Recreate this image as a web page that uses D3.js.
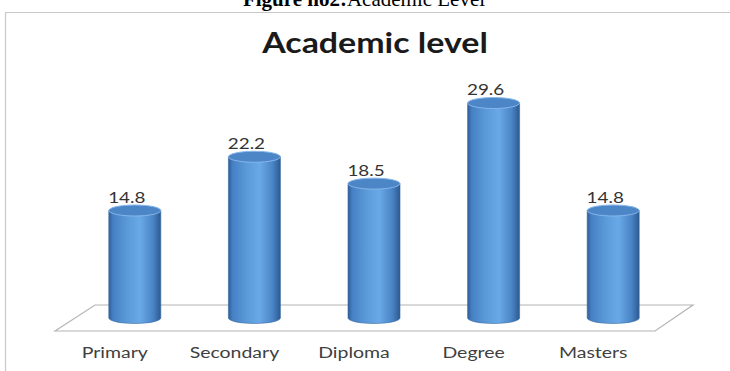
<!DOCTYPE html>
<html><head><meta charset="utf-8">
<script src="https://cdn.jsdelivr.net/npm/d3@7"></script>
<style>html,body{margin:0;padding:0;background:#fff;overflow:hidden}</style>
</head><body>
<svg id="c" width="730" height="371"></svg>
<script>
const categories = ["Primary", "Secondary", "Diploma", "Degree", "Masters"];
const values = [14.8, 22.2, 18.5, 29.6, 14.8];
const valueLabels = ["14.8", "22.2", "18.5", "29.6", "14.8"];
const chartTitle = "Academic level";
const captionBold = "Figure no2:";
const captionRest = "Academic Level";

const svg = d3.select("#c");
const W = 730, H = 371;
const stretch = 1.3; // the reference is horizontally stretched

// outer frame
svg.append("path").attr("d", `M5.5,${H} L5.5,12.5 L${W},12.5`)
  .attr("fill", "none").attr("stroke", "#c8c8c8").attr("stroke-width", 1.2);

// caption (cut at top, as in the reference)
const cap = svg.append("text").attr("x", 364).attr("y", 6).attr("text-anchor", "middle")
  .attr("font-family", "Liberation Serif, Times New Roman, serif").attr("font-size", 21).attr("fill", "#000");
cap.append("tspan").attr("font-weight", "bold").text(captionBold);
cap.append("tspan").text(captionRest);

// title
svg.append("text").attr("transform", "translate(375,53) scale(1.17,1)").attr("text-anchor", "middle")
  .attr("font-family", "Lato, Open Sans, sans-serif").attr("font-weight", "bold")
  .attr("font-size", 29).attr("fill", "#1a1a1a").text(chartTitle);

// scales
const x = d3.scaleBand().domain(categories).range([55, 653]).padding(0);
const dx = 20; // depth offset for bars
const y = d3.scaleLinear().domain([0, 35]).range([318, 63.8]);

// floor
const fl = 55, fr = 655, fy = 331, bx = 40, by = -26;
svg.append("path")
  .attr("d", `M${fl},${fy} L${fl+bx},${fy+by} L${fr+bx-2},${fy+by} L${fr},${fy} Z`)
  .attr("fill", "#fff").attr("stroke", "#b4b4b4").attr("stroke-width", 1.2);

// gradient
const defs = svg.append("defs");
const g = defs.append("linearGradient").attr("id", "cyl").attr("x1", "0").attr("x2", "1").attr("y1", "0").attr("y2", "0");
[[0, "#2f5f98"], [0.08, "#4580c4"], [0.35, "#5b9ad9"], [0.6, "#6aa9e7"], [0.85, "#4a84c6"], [1, "#2c5a90"]]
  .forEach(([o, c]) => g.append("stop").attr("offset", o).attr("stop-color", c));

const bw = 52, ry = 5.5;
const bars = svg.append("g").selectAll("g").data(categories).join("g");
bars.each(function(d, i) {
  const gg = d3.select(this);
  const cx = x(d) + x.bandwidth() / 2 + dx;
  const top = y(values[i]), base = y(0);
  gg.append("path")
    .attr("d", `M${cx-bw/2},${top} L${cx-bw/2},${base} A${bw/2},${ry} 0 0 0 ${cx+bw/2},${base} L${cx+bw/2},${top} Z`)
    .attr("fill", "url(#cyl)").attr("stroke", "#3466a0").attr("stroke-width", 0.6);
  gg.append("ellipse").attr("cx", cx).attr("cy", top).attr("rx", bw/2).attr("ry", ry)
    .attr("fill", "#4d86c7").attr("stroke", "#86b6ea").attr("stroke-width", 1);
  gg.append("text").attr("transform", `translate(${cx - 8},${top - 8}) scale(${stretch},1)`)
    .attr("text-anchor", "middle")
    .attr("font-family", "Lato, Open Sans, sans-serif").attr("font-size", 14.5).attr("fill", "#333")
    .text(valueLabels[i]);
});

// category labels
svg.append("g").selectAll("text").data(categories).join("text")
  .attr("transform", d => `translate(${x(d) + x.bandwidth() / 2},358) scale(${stretch},1)`)
  .attr("text-anchor", "middle")
  .attr("font-family", "Lato, Open Sans, sans-serif").attr("font-size", 15).attr("fill", "#404040")
  .text(d => d);
</script>
</body></html>
